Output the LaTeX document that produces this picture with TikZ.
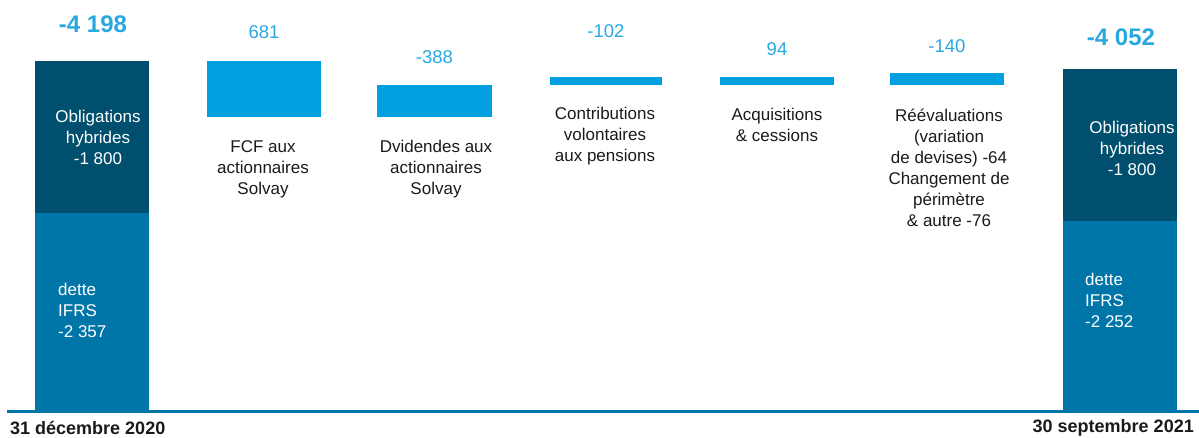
\documentclass[tikz,border=0pt]{standalone}
\usepackage{fontspec}
\setmainfont{Liberation Sans}
\usepackage{tikz}
\definecolor{hybride}{HTML}{004F6E}
\definecolor{ifrs}{HTML}{0076A8}
\definecolor{flux}{HTML}{009FE0}
\definecolor{valeur}{HTML}{29A8E0}
\definecolor{texte}{HTML}{1A1A1A}

\begin{document}
\begin{tikzpicture}[x=1pt, y=-1pt,
    lbl/.style={align=center, text=texte, inner sep=0pt, font=\fontsize{17}{21}\selectfont},
    inbar/.style={text=white, inner sep=0pt, font=\fontsize{17}{21}\selectfont},
    val/.style={text=valeur, inner sep=0pt, font=\fontsize{18.5}{22}\selectfont},
    total/.style={text=valeur, inner sep=0pt, font=\fontsize{24}{28}\selectfont\bfseries},
    date/.style={text=texte, inner sep=0pt, font=\fontsize{18}{22}\selectfont\bfseries}]
    \useasboundingbox (0,0) rectangle (1199,438);

    % opening position
    \fill[ifrs] (35, 213) -- (149, 213) -- (149, 410) -- (35, 410);
    \fill[hybride] (35, 61) -- (149, 61) -- (149, 213) -- (35, 213);
    \node[total] (t0) at (93, 24) {-4 198};
    \node[inbar, align=center] (h0) at (98, 137) {Obligations\\hybrides\\-1 800};
    \node[inbar, align=left, anchor=west] (d0) at (58, 310) {dette\\IFRS\\-2 357};

    % closing position
    \fill[ifrs] (1063, 221) -- (1177, 221) -- (1177, 410) -- (1063, 410);
    \fill[hybride] (1063, 69) -- (1177, 69) -- (1177, 221) -- (1063, 221);
    \node[total] (t1) at (1121, 37) {-4 052};
    \node[inbar, align=center] (h1) at (1132, 148) {Obligations\\hybrides\\-1 800};
    \node[inbar, align=left, anchor=west] (d1) at (1085, 300) {dette\\IFRS\\-2 252};

    % movements: left, right, top, bottom, value, value height
    \foreach \n/\xa/\xb/\ya/\yb/\v/\vy in {
        fcf/207/321/61/117/681/32,
        div/377/492/85/117/-388/57,
        pen/550/662/77/85/-102/31,
        acq/720/834/77/85/94/49,
        ree/890/1004/73/85/-140/46} {
        \fill[flux] (\xa, \ya) -- (\xb, \ya) -- (\xb, \yb) -- (\xa, \yb);
        \node[val] (v-\n) at ({(\xa + \xb)/2}, \vy) {\v};
    }

    \node[lbl] (l-fcf) at (263, 169) {FCF aux\\actionnaires\\Solvay};
    \node[lbl] (l-div) at (436, 169) {Dvidendes aux\\actionnaires\\Solvay};
    \node[lbl] (l-pen) at (605, 136) {Contributions\\volontaires\\aux pensions};
    \node[lbl] (l-acq) at (777, 125) {Acquisitions\\\& cessions};
    \node[lbl] (l-ree) at (949, 168) {R\'e\'evaluations\\(variation\\de devises) -64\\Changement de\\p\'erim\`etre\\\& autre -76};

    % axis
    \coordinate (o) at (7, 411);
    \coordinate (e) at (1199, 411);
    \draw[ifrs, line width=3pt] (o) -- (e);
    \node[date, anchor=west] (s0) at (10, 428) {31 d\'ecembre 2020};
    \node[date, anchor=east] (s1) at (1194, 428) {30 septembre 2021};
\end{tikzpicture}
\end{document}
